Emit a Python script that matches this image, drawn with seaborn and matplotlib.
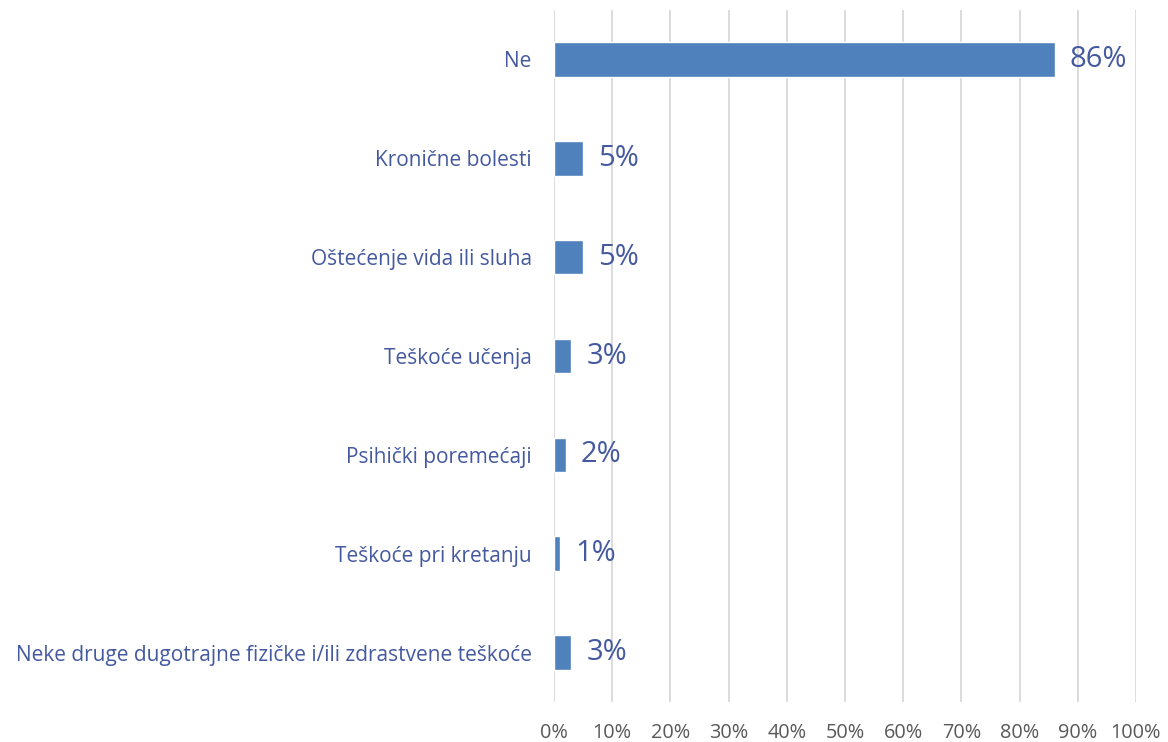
import matplotlib
matplotlib.use("Agg")
import matplotlib.pyplot as plt
import pandas as pd
import seaborn as sns
from matplotlib.ticker import FuncFormatter

categories = [
    "Ne",
    "Kronične bolesti",
    "Oštećenje vida ili sluha",
    "Teškoće učenja",
    "Psihički poremećaji",
    "Teškoće pri kretanju",
    "Neke druge dugotrajne fizičke i/ili zdrastvene teškoće",
]
values = [86, 5, 5, 3, 2, 1, 3]
x_ticks = list(range(0, 101, 10))

BAR_COLOR = "#4F81BD"
LABEL_COLOR = "#44599F"
TICK_COLOR = "#595959"
GRID_COLOR = "#D9D9D9"

sns.set_theme(style="white")
plt.rcParams["font.family"] = ["Open Sans", "DejaVu Sans"]

df = pd.DataFrame({"category": categories, "value": values})

fig = plt.figure(figsize=(11.68, 7.42), dpi=100)
ax = fig.add_axes([0.4743, 0.0539, 0.4983, 0.9326])

sns.barplot(data=df, x="value", y="category", color=BAR_COLOR,
            width=0.35, saturation=1, ax=ax, zorder=3)

ax.set_xlim(0, 100)
ax.set_xticks(x_ticks)
ax.xaxis.set_major_formatter(FuncFormatter(lambda v, _: f"{int(v)}%"))
ax.grid(axis="x", color=GRID_COLOR, linewidth=1.3, zorder=0)
ax.set_axisbelow(True)
for s in ax.spines.values():
    s.set_visible(False)

ax.set_xlabel("")
ax.set_ylabel("")
ax.tick_params(axis="x", length=0, pad=15, labelsize=14.3, labelcolor=TICK_COLOR)
ax.tick_params(axis="y", length=0, pad=16, labelsize=15, labelcolor=LABEL_COLOR)

for i, v in enumerate(values):
    ax.text(v + 2.6, i, f"{v}%", va="center", ha="left",
            fontsize=21, color=LABEL_COLOR, zorder=4)

fig.savefig("out.png", dpi=100)
